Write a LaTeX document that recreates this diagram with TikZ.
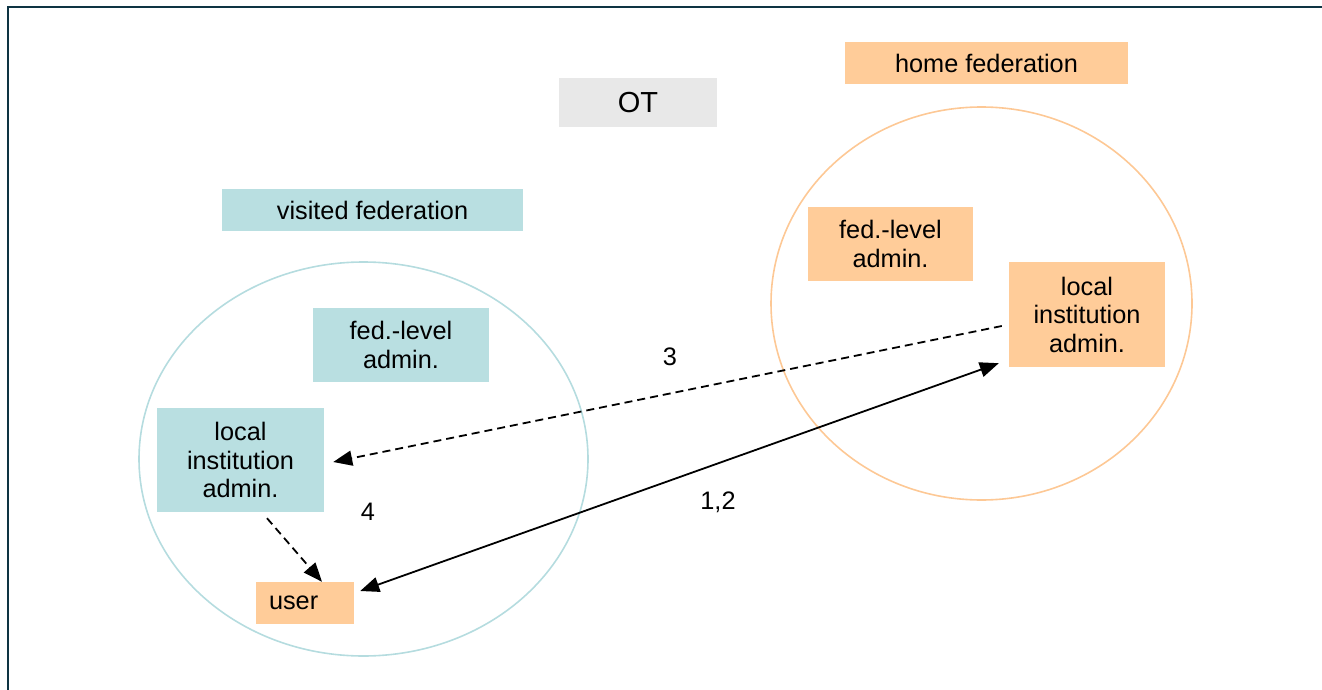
\documentclass[tikz,border=0pt]{standalone}
\usepackage{fontspec}
\setmainfont{Liberation Sans}
\usepackage{tikz}
\usetikzlibrary{arrows.meta,positioning}

\definecolor{visitfill}{HTML}{B9DFE1}
\definecolor{homefill}{HTML}{FFCC99}
\definecolor{otfill}{HTML}{E8E8E8}
\definecolor{visitline}{HTML}{B5DCDF}
\definecolor{homeline}{HTML}{FDC895}
\definecolor{framecol}{HTML}{0E3443}

\begin{document}
\begin{tikzpicture}[
			x=1pt,y=-1pt,
			>={Triangle[length=19pt,width=15pt]},
			every node/.style={
				font=\fontsize{25.3}{28.5}\selectfont
			},
			box/.style={
				inner sep=0pt,
				align=center
			},
			visitbox/.style={
				box,
				fill=visitfill
			},
			homebox/.style={
				box,
				fill=homefill
			},
			label/.style={
				inner sep=1pt
			},
			arrow/.style={
				->,
				line width=1.8pt
			},
			dasharrow/.style={
				arrow,
				dash pattern=on 8pt off 5pt
			}
			]
			\useasboundingbox (0,0) rectangle (1322,690);

			% frame
			\draw[framecol,line width=2pt] (8,690) -- (8,7) -- (1322,7);

			% federations
			\draw[visitline,line width=1.6pt] (363.5,459) ellipse [x radius=224.5,y radius=197];
			\draw[homeline,line width=1.6pt] (981.5,303.5) ellipse [x radius=210.5,y radius=196.5];

			\node[box,fill=otfill,minimum width=158,minimum height=49,
				font=\fontsize{29}{32}\selectfont] (ot) at (638,102.5) {OT};
			\node[homebox,minimum width=283,minimum height=42] (home) at (986.5,63) {home federation};
			\node[visitbox,minimum width=301,minimum height=42] (visited) at (372.5,210) {visited federation};

			% visited side
			\node[visitbox,minimum width=176,minimum height=74] (vfed) at (401,345) {fed.-level\\admin.};
			\node[visitbox,minimum width=167,minimum height=104] (vlocal) at (240.5,460)
			{local\\institution\\admin.};
			\node[homebox,minimum width=98,minimum height=42,inner xsep=13pt,
				text width=72,align=left] (user) at (305,603) {user};

			% home side
			\node[homebox,minimum width=165,minimum height=74] (hfed) at (890.5,244) {fed.-level\\admin.};
			\node[homebox,minimum width=156,minimum height=105] (hlocal) at (1087,314.5)
			{local\\institution\\admin.};

			% steps
			\draw[arrow,<->] ([shift={(6,-12)}]user.east) -- ([shift={(-10,-4)}]hlocal.south west);
			\draw[dasharrow] ([shift={(-7,11.5)}]hlocal.west) -- ([shift={(9,2)}]vlocal.east);
			\draw[dasharrow] ([shift={(26.5,6)}]vlocal.south) -- ([shift={(17,0)}]user.north);

			\node[label] (step3) at (670,357) {3};
			\node[label] (step12) at (718,502) {1,2};
			\node[label] (step4) at (368,512) {4};

\end{tikzpicture}
\end{document}
